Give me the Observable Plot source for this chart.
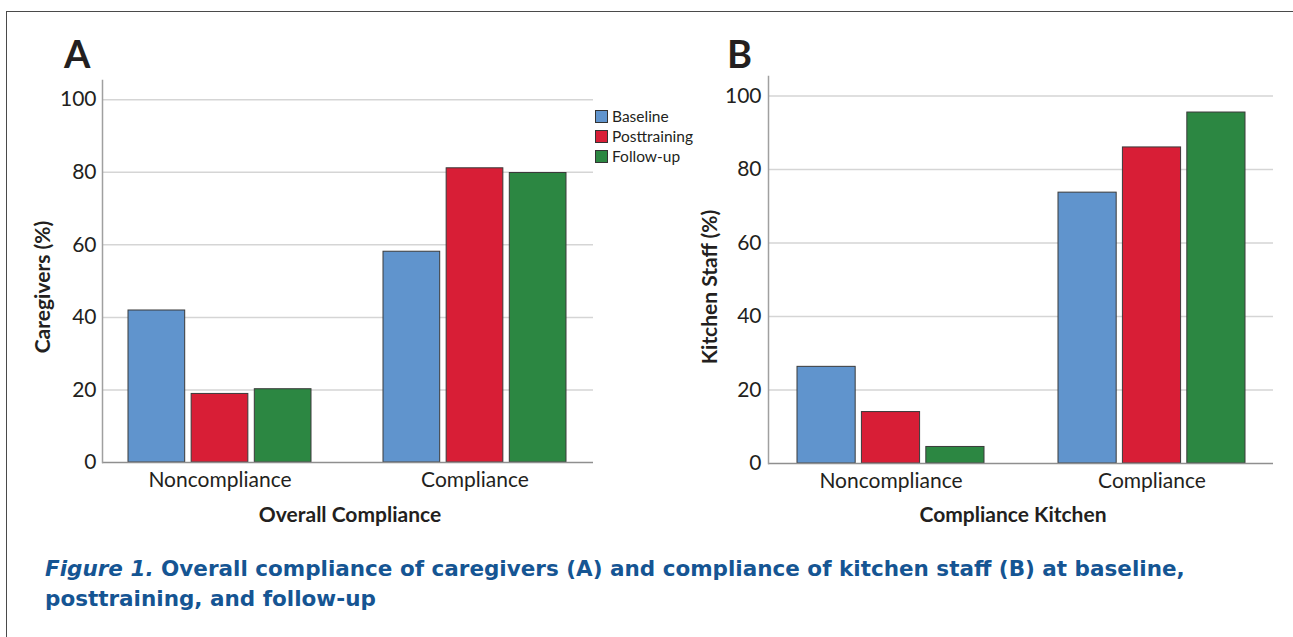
<!DOCTYPE html>
<html>
<head>
<meta charset="utf-8">
<script src="https://cdn.jsdelivr.net/npm/d3@7"></script>
<script src="https://cdn.jsdelivr.net/npm/@observablehq/plot@0.6"></script>
<style>
  html, body { margin: 0; padding: 0; background: #fff; }
  #page { position: relative; width: 1293px; height: 637px; overflow: hidden; background: #fff; font-family: Lato, "Open Sans", sans-serif; color: #231f20; }
  #frame { position: absolute; left: 6px; top: 11px; width: 1400px; height: 700px; border: 1.5px solid #4a4a4a; box-sizing: border-box; }
  .panel { position: absolute; top: 0; }
  .letter { position: absolute; font-weight: 700; font-size: 38px; line-height: 38px; }
  .xlabel { position: absolute; font-weight: 700; font-size: 21px; line-height: 21px; transform: translateX(-50%); white-space: nowrap; }
  .ylabel { position: absolute; font-weight: 700; font-size: 21px; line-height: 21px; transform: translate(-50%, -50%) rotate(-90deg); white-space: nowrap; }
  #legend { position: absolute; left: 595px; top: 106px; font-size: 15.5px; line-height: 20px; }
  #legend .row { display: flex; align-items: center; height: 20px; }
  #legend .sw { width: 11px; height: 11px; border: 1px solid #333; margin-right: 4px; }
  .cap { position: absolute; left: 45px; color: #155593; font-family: "DejaVu Sans", sans-serif; font-weight: 700; font-size: 21.5px; white-space: nowrap; }
</style>
</head>
<body>
<div id="page">
  <div id="frame"></div>
  <div class="letter" style="left:64px; top:34px;">A</div>
  <div class="letter" style="left:727px; top:34px;">B</div>
  <div id="panelA" class="panel" style="left:0px;"></div>
  <div id="panelB" class="panel" style="left:660px;"></div>
  <div class="xlabel" style="left:350px; top:503px;">Overall Compliance</div>
  <div class="xlabel" style="left:1013px; top:503px;">Compliance Kitchen</div>
  <div class="ylabel" style="left:41px; top:287px;">Caregivers (%)</div>
  <div class="ylabel" style="left:708px; top:287px;">Kitchen Staff (%)</div>
  <div id="legend"></div>
  <div class="cap" style="top:556px;"><i>Figure 1.</i> Overall compliance of caregivers (A) and compliance of kitchen staff (B) at baseline,</div>
  <div class="cap" style="top:586px;">posttraining, and follow-up</div>
</div>
<script>
const categories = ["Noncompliance", "Compliance"];
const seriesNames = ["Baseline", "Posttraining", "Follow-up"];
const seriesColors = ["#6094cd", "#d81e36", "#2c8742"];
const caregiversBaseline = [41.9, 58.1];
const caregiversPosttraining = [18.9, 81.1];
const caregiversFollowup = [20.2, 79.8];
const kitchenBaseline = [26.3, 73.7];
const kitchenPosttraining = [14.0, 86.0];
const kitchenFollowup = [4.5, 95.5];
const yTicks = [0, 20, 40, 60, 80, 100];

function rows(b, p, f) {
  const vals = [b, p, f];
  return seriesNames.map((s, j) => categories.map((c, i) => ({category: c, series: s, value: vals[j][i]})));
}

function panel(seriesRows, o) {
  // layout of the sub-bands inside each category band
  const outer = d3.scaleBand(categories, [o.marginLeft, o.width - o.marginRight]).paddingInner(o.pi).paddingOuter(o.po);
  const bw = outer.bandwidth();
  const inner = d3.scaleBand(seriesNames, [0, bw]).paddingInner(0.1).paddingOuter(0);
  const barMarks = seriesRows.map((data, j) => {
    const s = seriesNames[j];
    return Plot.barY(data, {
      x: "category", y: "value", fill: "series",
      insetLeft: inner(s), insetRight: bw - inner(s) - inner.bandwidth(),
      stroke: "#3a3a3a", strokeWidth: 1
    });
  });
  return Plot.plot({
    width: o.width, height: 540,
    marginLeft: o.marginLeft, marginRight: o.marginRight, marginTop: o.marginTop, marginBottom: o.marginBottom,
    style: {fontFamily: "Lato, 'Open Sans', sans-serif", fontSize: "21px", color: "#231f20", background: "transparent", overflow: "visible"},
    x: {domain: categories, paddingInner: o.pi, paddingOuter: o.po, label: null, axis: null},
    y: {domain: [0, 105.3], axis: null},
    color: {domain: seriesNames, range: seriesColors},
    marks: [
      Plot.gridY(yTicks.slice(1), {stroke: "#d5d5d5", strokeOpacity: 1, strokeWidth: 1.5}),
      ...barMarks,
      Plot.ruleY([0], {stroke: "#8f8f8f", strokeWidth: 1.5}),
      Plot.frame({anchor: "left", stroke: "#a0a0a0", strokeWidth: 1.5}),
      Plot.axisY(yTicks, {tickSize: 0, tickPadding: o.tp, label: null, fontSize: 21, fill: "#231f20"}),
      Plot.axisX({anchor: "bottom", tickSize: 0, tickPadding: 10, label: null, fontSize: 21, fill: "#231f20"})
    ]
  });
}

document.getElementById("panelA").appendChild(panel(
  rows(caregiversBaseline, caregiversPosttraining, caregiversFollowup),
  {width: 660, marginLeft: 102, marginRight: 67, marginTop: 80, marginBottom: 78, pi: 0.282, po: 0.1035, tp: 6}
));
document.getElementById("panelB").appendChild(panel(
  rows(kitchenBaseline, kitchenPosttraining, kitchenFollowup),
  {width: 633, marginLeft: 108, marginRight: 20, marginTop: 76, marginBottom: 77, pi: 0.285, po: 0.109, tp: 7}
));

const legend = document.getElementById("legend");
seriesNames.forEach((s, i) => {
  const row = document.createElement("div");
  row.className = "row";
  const sw = document.createElement("div");
  sw.className = "sw";
  sw.style.background = seriesColors[i];
  const t = document.createElement("span");
  t.textContent = s;
  row.appendChild(sw);
  row.appendChild(t);
  legend.appendChild(row);
});
</script>
</body>
</html>
